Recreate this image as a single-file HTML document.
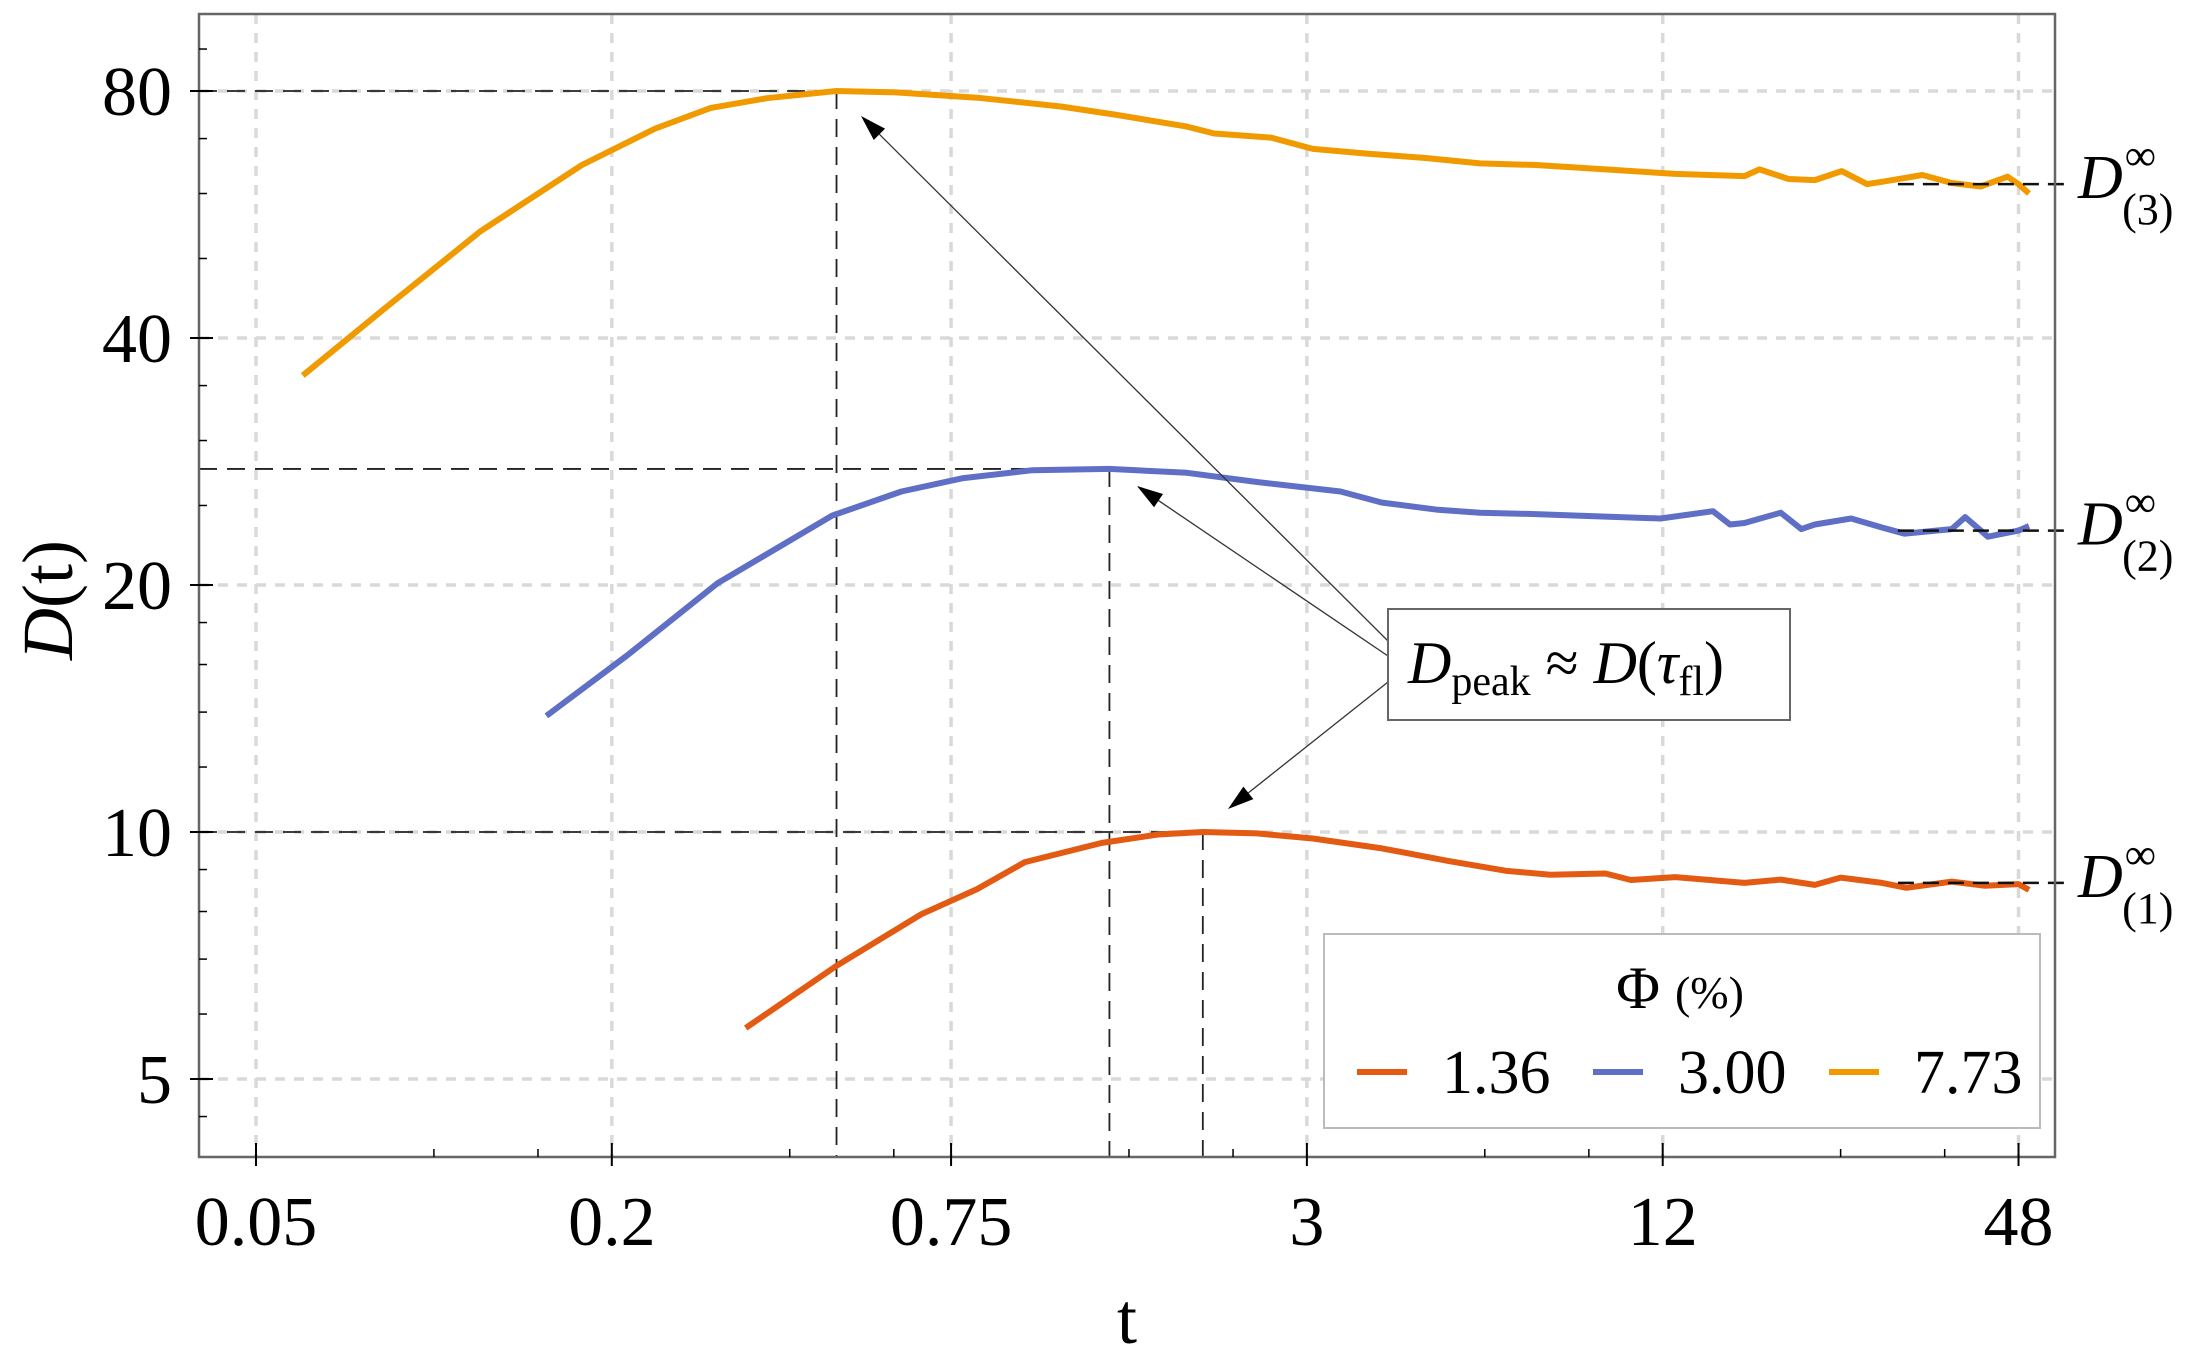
<!DOCTYPE html>
<html><head><meta charset="utf-8"><style>
html,body{margin:0;padding:0;background:#fff;}
svg{display:block;font-family:"Liberation Serif",serif;}
</style></head><body>
<svg id="chart" width="2188" height="1364" viewBox="0 0 2188 1364" xmlns="http://www.w3.org/2000/svg"></svg>
<script>
// ---- data ----
const tOrange=[0.06,0.082,0.12,0.178,0.237,0.294,0.366,0.48,0.60,0.83,1.15,1.43,1.88,2.09,2.61,3.07,3.81,4.74,5.89,7.32,9.6,12.6,16.5,17.5,19.6,21.7,24.1,26.6,28.2,33,37,41.4,46,48,50];
const dOrange=[36,43.3,54,65,72,76.3,78.4,80,79.7,78.5,76.6,74.8,72.4,71.0,70.2,68.0,67.1,66.3,65.3,65,64.2,63.4,63,64.2,62.5,62.3,63.9,61.6,62,63.2,61.8,61.2,62.9,61.6,60.0];
const tBlue=[0.155,0.212,0.302,0.472,0.618,0.787,1.03,1.39,1.88,2.47,3.42,4.02,5.0,5.89,7.32,8.6,11.9,14.6,15.6,16.5,19,20.6,21.7,25,28.2,30.8,37,39,42.6,48,50];
const dBlue=[13.85,16.4,20.1,24.3,26.0,27.0,27.6,27.7,27.4,26.7,26.0,25.2,24.7,24.5,24.4,24.3,24.1,24.6,23.7,23.8,24.5,23.4,23.7,24.1,23.5,23.1,23.4,24.2,22.9,23.3,23.6];
const tRed=[0.337,0.48,0.668,0.83,1.0,1.35,1.68,2.0,2.47,3.07,4.02,5.2,6.5,7.74,9.6,10.6,12.6,16.5,19,21.7,24,28.2,31,37,42,48,50];
const dRed=[5.77,6.87,7.94,8.52,9.19,9.70,9.93,10.0,9.96,9.82,9.55,9.22,8.97,8.87,8.9,8.74,8.81,8.67,8.75,8.62,8.8,8.67,8.55,8.7,8.6,8.64,8.5];
const peakT=[2.0,1.39,0.48];
const peakD=[10,27.7,80];
const infD=[8.67,23.3,61.6];
const infLabels=["(1)","(2)","(3)"];
const xTicks=[0.05,0.2,0.75,3,12,48];
const xTickLabels=["0.05","0.2","0.75","3","12","48"];
const xMinor=[0.1,0.15,0.4,0.6,1.5,2.25,6,9,24,36];
const yTicks=[5,10,20,40,80];
const yTickLabels=["5","10","20","40","80"];
const yMinor=[4.5,6,7,8,9,12,14,16,18,25,30,35,50,60,70,90];
const legendLabels=["1.36","3.00","7.73"];

// ---- layout ----
const L=199,R=2055,T=14,B=1157;
const xs=t=>256+591*Math.log10(t/0.05);
const ys=d=>91+247*Math.log2(80/d);
const svg=document.getElementById('chart');
const NS="http://www.w3.org/2000/svg";
function mk(tag,attrs,parent){const e=document.createElementNS(NS,tag);for(const k in attrs)e.setAttribute(k,attrs[k]);(parent||svg).appendChild(e);return e;}

// grid
const grid=mk('g',{});


xTicks.forEach(t=>{mk('line',{x1:xs(t),x2:xs(t),y1:T,y2:B,stroke:'#d9d9d9','stroke-width':3.5,'stroke-dasharray':'10 9'},grid);});
yTicks.forEach(d=>{mk('line',{x1:L,x2:R,y1:ys(d),y2:ys(d),stroke:'#d9d9d9','stroke-width':3.5,'stroke-dasharray':'10 9'},grid);});

// peak dashed lines
const colors=['#E35A12','#5F6FC6','#F09A00'];
const names=['phi-1-36','phi-3-00','phi-7-73'];
peakT.forEach((t,i)=>{
  const h=mk('line',{x1:L,x2:xs(t),y1:ys(peakD[i]),y2:ys(peakD[i]),stroke:'#222','stroke-width':1.8,'stroke-dasharray':'18 10'});
  
  
  const v=mk('line',{x1:xs(t),x2:xs(t),y1:ys(peakD[i]),y2:B,stroke:'#222','stroke-width':1.8,'stroke-dasharray':'18 10'});
  
  
});

// series
const series=[[tRed,dRed],[tBlue,dBlue],[tOrange,dOrange]];
series.forEach((s,i)=>{
  const pts=s[0].map((t,j)=>xs(t).toFixed(1)+','+ys(s[1][j]).toFixed(1)).join(' ');
  const p=mk('polyline',{points:pts,fill:'none',stroke:colors[i],'stroke-width':6,'stroke-linejoin':'round'});
  
  
});

// infinity reference lines + labels
infD.forEach((d,i)=>{
  const l=mk('line',{x1:xs(30),x2:2068,y1:ys(d),y2:ys(d),stroke:'#111','stroke-width':2.5,'stroke-dasharray':'16 9'});
  
  
  const tx=mk('text',{x:2078,y:ys(d)+14,'font-size':62,'font-style':'italic',fill:'#000'});
  
  
  tx.innerHTML='D<tspan font-style="normal" font-size="44" dy="-28" dx="2">∞</tspan><tspan font-style="normal" font-size="44" dy="54" dx="-34">'+infLabels[i]+'</tspan>';
});

// frame
const fr=mk('rect',{x:L,y:T,width:R-L,height:B-T,fill:'none',stroke:'#666','stroke-width':2.5});



// ticks
xTicks.forEach((t,i)=>{
  mk('line',{x1:xs(t),x2:xs(t),y1:B,y2:B-14,stroke:'#000','stroke-width':2});
  mk('line',{x1:xs(t),x2:xs(t),y1:B,y2:B+9,stroke:'#000','stroke-width':2});
  const tx=mk('text',{x:xs(t),y:1245,'font-size':70,'text-anchor':'middle',fill:'#000'});
  
  
  tx.textContent=xTickLabels[i];
});
xMinor.forEach(t=>{mk('line',{x1:xs(t),x2:xs(t),y1:B,y2:B-8,stroke:'#000','stroke-width':1.5});});
yTicks.forEach((d,i)=>{
  mk('line',{x1:L-9,x2:L+14,y1:ys(d),y2:ys(d),stroke:'#000','stroke-width':2});
  const tx=mk('text',{x:172,y:ys(d)+24,'font-size':70,'text-anchor':'end',fill:'#000'});
  
  
  tx.textContent=yTickLabels[i];
});
yMinor.forEach(d=>{mk('line',{x1:L,x2:L+8,y1:ys(d),y2:ys(d),stroke:'#000','stroke-width':1.5});});

// axis titles
const xt=mk('text',{x:1127,y:1343,'font-size':72,'text-anchor':'middle',fill:'#000'});


xt.textContent='t';
const yt=mk('text',{x:0,y:0,'font-size':72,'text-anchor':'middle',fill:'#000',transform:'translate(72,600) rotate(-90)'});


yt.innerHTML='<tspan font-style="italic">D</tspan>(t)';

// annotation arrows
const srcY=[682,656,641];
peakT.forEach((t,i)=>{
  const x0=1388,y0=srcY[i];
  const tgtX=[1228,1137,861][i],tgtY=[809,486,116][i];
  const ang=Math.atan2(tgtY-y0,tgtX-x0);
  const hx=tgtX-26*Math.cos(ang),hy=tgtY-26*Math.sin(ang);
  const ln=mk('line',{x1:x0,y1:y0,x2:hx,y2:hy,stroke:'#333','stroke-width':1.3});
  
  
  const px=-Math.sin(ang)*8,py=Math.cos(ang)*8;
  mk('polygon',{points:`${tgtX},${tgtY} ${hx+px},${hy+py} ${hx-px},${hy-py}`,fill:'#000'});
});
const ab=mk('g',{});


mk('rect',{x:1388,y:609,width:402,height:111,fill:'#fff',stroke:'#666','stroke-width':2},ab);
const at=mk('text',{x:1408,y:683,'font-size':60,fill:'#000'},ab);
at.innerHTML='<tspan font-style="italic">D</tspan><tspan font-size="42" dy="12">peak</tspan><tspan dy="-12"> ≈ </tspan><tspan font-style="italic">D</tspan>(<tspan font-style="italic">τ</tspan><tspan font-size="42" dy="12">fl</tspan><tspan dy="-12">)</tspan>';

// legend
const lg=mk('g',{});


mk('rect',{x:1324,y:934,width:716,height:194,fill:'#fff',stroke:'#bbb','stroke-width':2},lg);
const lt=mk('text',{x:1680,y:1008,'font-size':60,'text-anchor':'middle',fill:'#000'},lg);


lt.innerHTML='Φ <tspan font-size="46">(%)</tspan>';
const lx=[1357,1593,1829];
legendLabels.forEach((s,i)=>{
  const g=mk('g',{},lg);
  
  
  mk('line',{x1:lx[i],x2:lx[i]+50,y1:1072,y2:1072,stroke:colors[i],'stroke-width':6},g);
  const tx=mk('text',{x:lx[i]+85,y:1093,'font-size':62,fill:'#000'},g);
  tx.textContent=s;
});
</script>
</body></html>
